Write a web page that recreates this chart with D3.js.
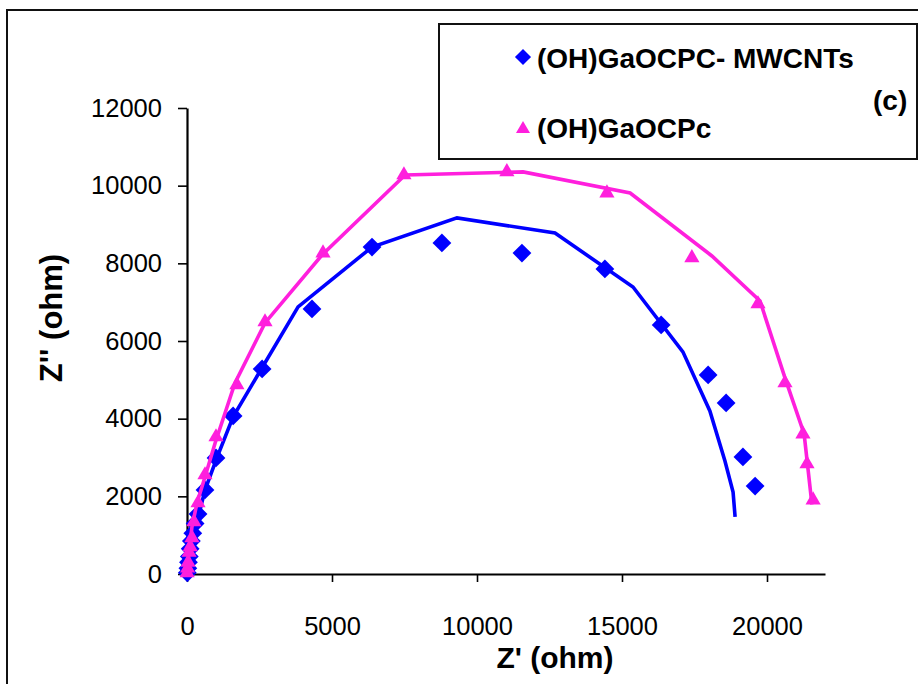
<!DOCTYPE html>
<html>
<head>
<meta charset="utf-8">
<script src="https://cdn.jsdelivr.net/npm/d3@7"></script>
<style>
  html, body { margin: 0; padding: 0; background: #fff; }
  svg { display: block; font-family: "Liberation Sans", Arial, sans-serif; }
</style>
</head>
<body>
<svg id="chart" width="918" height="684"></svg>
<script>
// ---- Data ----
const seriesNames = ["(OH)GaOCPC- MWCNTs", "(OH)GaOCPc"];
const xTicks = [0, 5000, 10000, 15000, 20000];
const yTicks = [0, 2000, 4000, 6000, 8000, 10000, 12000];

// (OH)GaOCPC- MWCNTs experimental points [Z', Z'']
const mwcntX = [10, 30, 50, 80, 110, 150, 200, 280, 380, 620, 1000, 1590, 2590, 4310, 6380, 8790, 11550, 14410, 16350, 17970, 18590, 19170, 19590];
const mwcntY = [30, 150, 300, 450, 650, 850, 1050, 1300, 1545, 2165, 2990, 4070, 5280, 6825, 8420, 8525, 8265, 7855, 6415, 5125, 4405, 3015, 2265];
// (OH)GaOCPC- MWCNTs fitted line
const mwcntFitX = [0, 100, 280, 450, 620, 1030, 1590, 3830, 6380, 9310, 12690, 15380, 17100, 18030, 18550, 18830, 18900];
const mwcntFitY = [30, 360, 1060, 1650, 2160, 2990, 4050, 6880, 8420, 9170, 8780, 7390, 5720, 4200, 2910, 2110, 1470];

// (OH)GaOCPc experimental points
const gaX = [5, 20, 40, 70, 110, 170, 240, 380, 620, 1000, 1720, 2690, 4690, 7480, 11030, 14480, 17410, 19690, 20620, 21240, 21380, 21590];
const gaY = [30, 150, 300, 560, 700, 930, 1340, 1830, 2550, 3530, 4870, 6490, 8265, 10275, 10355, 9810, 8140, 6955, 4920, 3605, 2835, 1905];
// (OH)GaOCPc fitted line
const gaFitX = [0, 60, 170, 345, 620, 970, 1655, 2690, 4655, 7520, 11590, 15280, 18100, 19760, 20620, 21280, 21550];
const gaFitY = [30, 500, 1210, 1830, 2500, 3375, 4920, 6465, 8215, 10275, 10355, 9810, 8190, 7030, 5050, 3605, 1790];

const colors = ["#0000ff", "#ff1fdd"];

// ---- Drawing ----
const svg = d3.select("#chart");

// outer frame (extends beyond the picture on right & bottom)
svg.append("rect")
  .attr("x", 7).attr("y", 10).attr("width", 1000).attr("height", 1000)
  .attr("fill", "none").attr("stroke", "#111").attr("stroke-width", 2);

const x = d3.scaleLinear().domain([0, 22000]).range([187, 825]);
const y = d3.scaleLinear().domain([0, 12000]).range([574, 108]);

// X axis
const gx = svg.append("g").attr("transform", `translate(0,${y(0)})`)
  .call(d3.axisBottom(x).tickValues(xTicks).tickFormat(d3.format("d"))
    .tickSize(8).tickSizeOuter(0).tickPadding(35));
gx.select(".domain").attr("stroke", "#000").attr("stroke-width", 2.2);
gx.selectAll(".tick line").attr("stroke", "#000").attr("stroke-width", 1.6);
gx.selectAll(".tick text").attr("font-size", 25.5).attr("fill", "#000")
  .attr("font-family", "Liberation Sans, Arial, sans-serif");

// Y axis
const gy = svg.append("g").attr("transform", `translate(${x(0)},0)`)
  .call(d3.axisLeft(y).tickValues(yTicks).tickFormat(d3.format("d"))
    .tickSize(9).tickSizeOuter(0).tickPadding(16));
gy.select(".domain").attr("stroke", "#000").attr("stroke-width", 2.2);
gy.selectAll(".tick line").attr("stroke", "#000").attr("stroke-width", 1.6);
gy.selectAll(".tick text").attr("font-size", 25.5).attr("fill", "#000")
  .attr("font-family", "Liberation Sans, Arial, sans-serif");

// Axis titles
svg.append("text").attr("x", 555).attr("y", 668)
  .attr("text-anchor", "middle").attr("font-size", 30).attr("font-weight", "bold")
  .text("Z' (ohm)");
svg.append("text").attr("transform", "translate(62,318) rotate(-90)")
  .attr("text-anchor", "middle").attr("font-size", 31).attr("font-weight", "bold")
  .text("Z'' (ohm)");

const line = d3.line().x(d => x(d[0])).y(d => y(d[1]));
const zip = (a, b) => a.map((v, i) => [v, b[i]]);

const diamond = d3.symbol().type(d3.symbolDiamond2).size(225)();
const triangle = d3.symbol().type(d3.symbolTriangle).size(100)();

// MWCNTs series
svg.append("path").datum(zip(mwcntFitX, mwcntFitY))
  .attr("d", line).attr("fill", "none").attr("stroke", colors[0])
  .attr("stroke-width", 3.6).attr("stroke-linejoin", "miter");
svg.append("g").selectAll("path").data(zip(mwcntX, mwcntY)).join("path")
  .attr("d", diamond).attr("fill", colors[0])
  .attr("transform", d => `translate(${x(d[0])},${y(d[1])})`);

// GaOCPc series
svg.append("path").datum(zip(gaFitX, gaFitY))
  .attr("d", line).attr("fill", "none").attr("stroke", colors[1])
  .attr("stroke-width", 3.6).attr("stroke-linejoin", "miter");
svg.append("g").selectAll("path").data(zip(gaX, gaY)).join("path")
  .attr("d", triangle).attr("fill", colors[1])
  .attr("transform", d => `translate(${x(d[0])},${y(d[1])})`);

// Legend
const lg = svg.append("g");
lg.append("rect").attr("x", 439).attr("y", 24).attr("width", 478).attr("height", 135)
  .attr("fill", "#fff").attr("stroke", "#111").attr("stroke-width", 2);
lg.append("path").attr("d", d3.symbol().type(d3.symbolDiamond2).size(165)())
  .attr("fill", colors[0]).attr("transform", "translate(523,57)");
lg.append("path").attr("d", d3.symbol().type(d3.symbolTriangle).size(85)())
  .attr("fill", colors[1]).attr("transform", "translate(523,129)");
lg.append("text").attr("x", 537).attr("y", 68).attr("font-size", 28).attr("font-weight", "bold")
  .text(seriesNames[0]);
lg.append("text").attr("x", 537).attr("y", 138).attr("font-size", 28).attr("font-weight", "bold")
  .text(seriesNames[1]);
lg.append("text").attr("x", 873).attr("y", 110).attr("font-size", 28).attr("font-weight", "bold")
  .text("(c)");
</script>
</body>
</html>
